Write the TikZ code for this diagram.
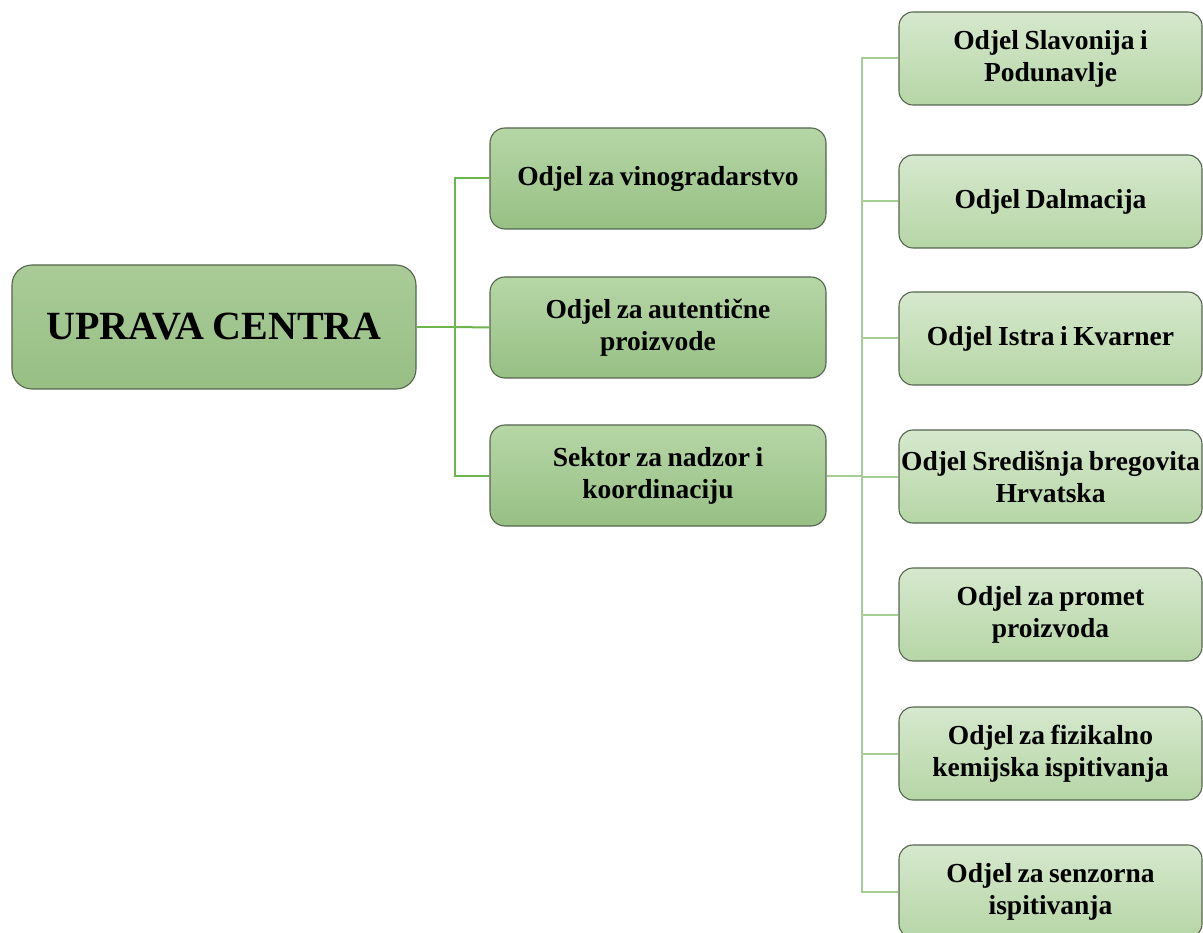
\documentclass[tikz,border=0pt]{standalone}
\usepackage{fontspec}
\setmainfont{Liberation Serif}[WordSpace=0.8]
\usetikzlibrary{calc}
\definecolor{bordc}{HTML}{55664F}
\definecolor{lconn}{HTML}{6DB54E}
\definecolor{rconn}{HTML}{A6CD94}
\definecolor{roottop}{HTML}{AACB97}
\definecolor{rootbot}{HTML}{97BF84}
\definecolor{midtop}{HTML}{B6D6A6}
\definecolor{midbot}{HTML}{97C084}
\definecolor{righttop}{HTML}{D6E8CD}
\definecolor{rightbot}{HTML}{B6D6A6}
\tikzset{
  box/.style={draw=bordc, line width=1.1pt, align=center, inner sep=2pt, font=\bfseries\fontsize{27.5}{32}\selectfont},
  rootbox/.style={box, rounded corners=20pt, minimum width=404pt, minimum height=124pt, top color=roottop, bottom color=rootbot, font=\bfseries\fontsize{40}{44}\selectfont},
  midbox/.style={box, rounded corners=15pt, minimum width=336pt, minimum height=101pt, top color=midtop, bottom color=midbot},
  rightbox/.style={box, rounded corners=14pt, minimum width=303pt, minimum height=93pt, top color=righttop, bottom color=rightbot},
  lline/.style={draw=lconn, line width=2pt},
  rline/.style={draw=rconn, line width=2pt},
}
\begin{document}
\begin{tikzpicture}[x=1pt,y=-1pt]
\useasboundingbox (0,0) rectangle (1203,933);
\fill[white] (0,0) rectangle (1203,933);
% root
\node[rootbox] (root) at (214,327) {UPRAVA CENTRA};
% middle
\node[midbox] (m1) at (658,178.5) {Odjel za vinogradarstvo};
\node[midbox] (m2) at (658,327.5) {Odjel za autentične\\proizvode};
\node[midbox] (m3) at (658,475.5) {Sektor za nadzor i\\koordinaciju};
% right
\node[rightbox] (r1) at (1050.5,58.5) {Odjel Slavonija i\\Podunavlje};
\node[rightbox] (r2) at (1050.5,201.5) {Odjel Dalmacija};
\node[rightbox] (r3) at (1050.5,338.5) {Odjel Istra i Kvarner};
\node[rightbox] (r4) at (1050.5,476.5) {Odjel Središnja bregovita\\Hrvatska};
\node[rightbox] (r5) at (1050.5,614.5) {Odjel za promet\\proizvoda};
\node[rightbox] (r6) at (1050.5,753.5) {Odjel za fizikalno\\kemijska ispitivanja};
\node[rightbox] (r7) at (1050.5,891.5) {Odjel za senzorna\\ispitivanja};
% junctions
\coordinate (jl) at (455,327);
\coordinate (jr) at (862,475.5);
% left connectors
\draw[lline] (root.east) -- (jl);
\draw[lline] (m1.west) -| (jl);
\draw[lline] (m3.west) -| (jl);
\draw[lline] (m2.west) -- (jl);
% right connectors
\draw[rline] (m3.east) -- (jr);
\foreach \r in {r1,r2,r3,r4,r5,r6,r7}{
  \draw[rline] (\r.west) -| (jr);
}
\end{tikzpicture}
\end{document}
